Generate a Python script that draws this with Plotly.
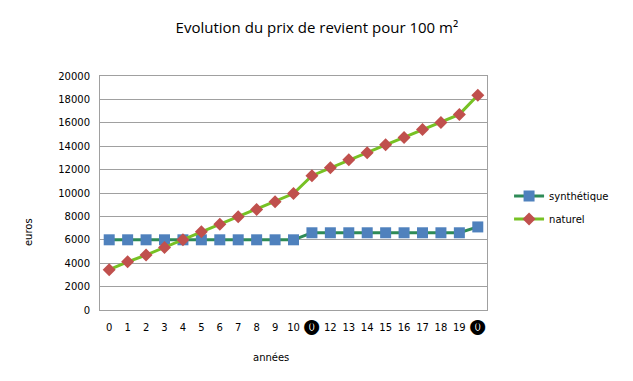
import plotly.graph_objects as go

annees = ["0", "1", "2", "3", "4", "5", "6", "7", "8", "9", "10", "⓿",
          "12", "13", "14", "15", "16", "17", "18", "19", "⓿"]
synthetique = [6000, 6000, 6000, 6000, 6000, 6000, 6000, 6000, 6000, 6000, 6000,
               6600, 6600, 6600, 6600, 6600, 6600, 6600, 6600, 6600, 7100]
naturel = [3450, 4120, 4700, 5350, 6000, 6680, 7320, 7970, 8600, 9250, 9950,
           11480, 12150, 12850, 13450, 14120, 14750, 15420, 16030, 16720, 18360]
y_ticks = list(range(0, 20001, 2000))

x = list(range(len(annees)))
x_text = [("<span style='font-size:15px'>%s</span>" % t) if t == "⓿" else t for t in annees]

fig = go.Figure()
fig.add_trace(go.Scatter(
    x=x, y=synthetique, name="synthétique", mode="lines+markers",
    legendgroup="a",
    line=dict(color="#2E8B57", width=3),
    marker=dict(symbol="square", size=11, color="#4F81BD"),
))
fig.add_trace(go.Scatter(
    x=x, y=naturel, name="naturel", mode="lines+markers",
    legendgroup="b",
    line=dict(color="#77C124", width=3),
    marker=dict(symbol="diamond", size=10, color="#C0504D"),
))

fig.update_layout(
    width=633, height=381,
    paper_bgcolor="white", plot_bgcolor="white",
    margin=dict(l=92, r=154, t=68, b=79, autoexpand=False),
    font=dict(family="DejaVu Sans", size=10, color="#000000"),
    title=dict(text="Evolution du prix de revient pour 100 m²",
               x=0.488, xanchor="center", y=0.9475, yanchor="middle",
               font=dict(family="Open Sans", size=15, color="#000000")),
    xaxis=dict(
        tickmode="array", tickvals=x, ticktext=x_text,
        range=[-0.5, len(annees) - 0.5],
        showgrid=False, zeroline=False, automargin=False,
        showline=True, linecolor="#A0A0A0", mirror=True,
        ticks="", tickfont=dict(size=10), ticklabelstandoff=8,
    ),
    yaxis=dict(
        range=[0, 20000], tickvals=y_ticks, ticktext=[str(v) for v in y_ticks],
        showgrid=True, gridcolor="#A0A0A0", gridwidth=1,
        zeroline=False, showline=True, linecolor="#A0A0A0", mirror=True,
        ticks="", tickfont=dict(size=10), automargin=False,
        ticklabelstandoff=7,
    ),
    annotations=[
        dict(text="années", xref="paper", yref="paper", x=0.442, y=-0.201,
             xanchor="center", yanchor="middle", showarrow=False,
             font=dict(size=10)),
        dict(text="euros", xref="paper", yref="paper", x=-0.186, y=0.333,
             xanchor="center", yanchor="middle", showarrow=False,
             textangle=-90, font=dict(size=10)),
    ],
    legend=dict(x=1.057, y=0.438, xanchor="left", yanchor="middle",
                font=dict(size=10), tracegroupgap=4, itemwidth=30,
                bgcolor="rgba(0,0,0,0)"),
)

fig.write_html("out.html")
